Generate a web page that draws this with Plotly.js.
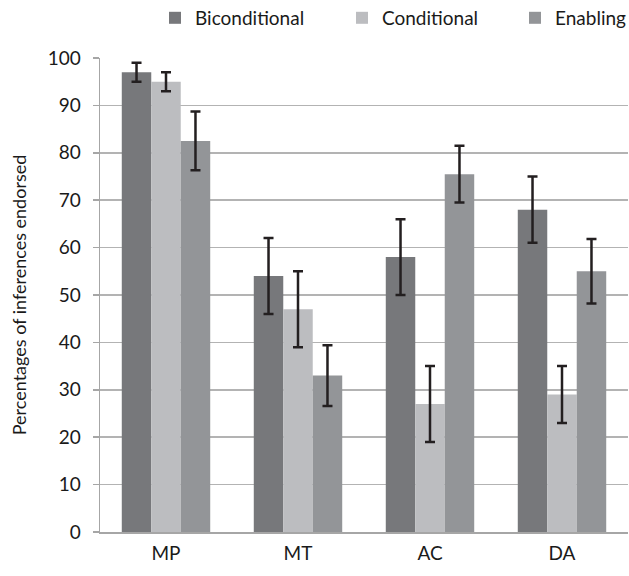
<!DOCTYPE html>
<html>
<head>
<meta charset="utf-8">
<script src="https://cdn.plot.ly/plotly-3.0.1.min.js"></script>
<style>html,body{margin:0;padding:0;background:#fff;}#chart{width:629px;height:576px;}</style>
</head>
<body>
<div id="chart"></div>
<script>
var categories = ["MP", "MT", "AC", "DA"];
var biconditional = [97, 54, 58, 68];
var biconditionalErr = [2, 8, 8, 7];
var conditional = [95, 47, 27, 29];
var conditionalErr = [2, 8, 8, 6];
var enabling = [82.5, 33, 75.5, 55];
var enablingErr = [6.2, 6.4, 6, 6.8];
var yTicks = [0, 10, 20, 30, 40, 50, 60, 70, 80, 90, 100];

var errStyle = function (arr) {
  return {type: "data", array: arr, visible: true, color: "#231f20", thickness: 2.5, width: 5};
};

var traces = [
  {type: "bar", name: "Biconditional", x: categories, y: biconditional, error_y: errStyle(biconditionalErr),
   marker: {color: "#77787b"}, legend: "legend"},
  {type: "bar", name: "Conditional", x: categories, y: conditional, error_y: errStyle(conditionalErr),
   marker: {color: "#bcbdc0"}, legend: "legend2"},
  {type: "bar", name: "Enabling", x: categories, y: enabling, error_y: errStyle(enablingErr),
   marker: {color: "#939598"}, legend: "legend3"}
];

var legFont = {family: "Lato, 'Open Sans', sans-serif", size: 19, color: "#1a1a1a"};
function leg(x) {
  return {orientation: "h", x: x, xanchor: "left", y: 1.0845, yanchor: "middle",
          font: legFont, itemwidth: 30, bgcolor: "rgba(0,0,0,0)", borderwidth: 0, itemclick: false};
}

var layout = {
  width: 629, height: 576,
  margin: {l: 100, r: 1, t: 58, b: 44, pad: 0, autoexpand: false},
  paper_bgcolor: "#ffffff", plot_bgcolor: "#ffffff",
  font: {family: "Lato, 'Open Sans', sans-serif", size: 19, color: "#1a1a1a"},
  barmode: "group", bargap: 0.33, bargroupgap: 0,
  showlegend: true,
  legend: leg(0.1042),
  legend2: leg(0.4583),
  legend3: leg(0.786),
  xaxis: {
    type: "category", showline: true, linecolor: "#a6a6a6", linewidth: 1.5,
    ticks: "", showgrid: false, zeroline: false, ticklabelstandoff: 4,
    tickfont: {size: 19, color: "#1a1a1a"}, fixedrange: true
  },
  yaxis: {
    range: [0, 100], tickvals: yTicks, ticktext: yTicks.map(String),
    showline: true, linecolor: "#a6a6a6", linewidth: 1.5,
    ticks: "outside", ticklen: 6, tickcolor: "#a6a6a6", tickwidth: 1.5,
    showgrid: true, gridcolor: "#b3b3b3", gridwidth: 1.5, zeroline: false,
    ticklabelstandoff: 8,
    tickfont: {size: 19, color: "#1a1a1a"},
    title: {text: "Percentages of inferences endorsed", font: {size: 18, color: "#1a1a1a"}, standoff: 16},
    fixedrange: true
  }
};

Plotly.newPlot("chart", traces, layout, {displayModeBar: false, staticPlot: true});
</script>
</body>
</html>
